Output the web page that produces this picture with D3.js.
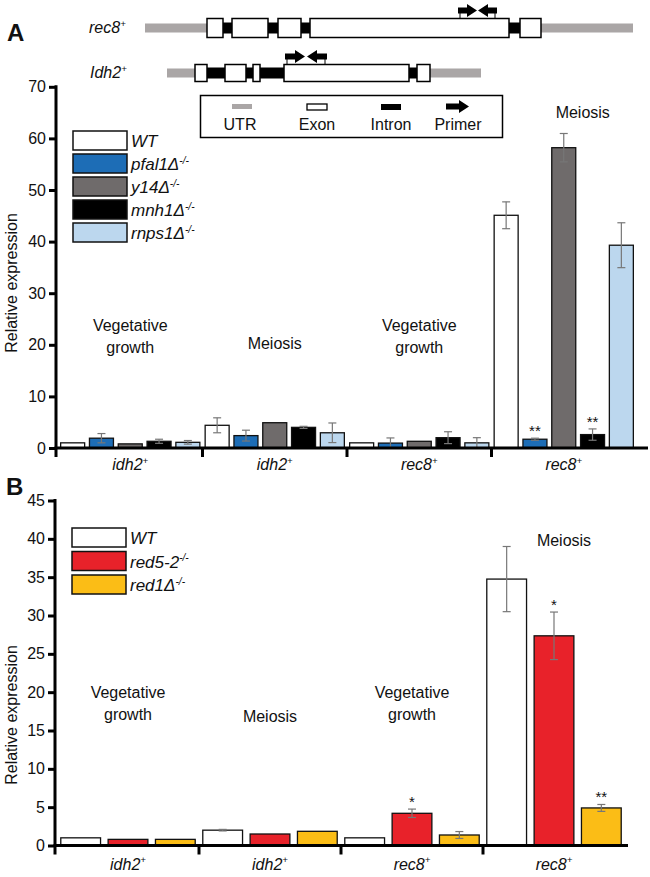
<!DOCTYPE html>
<html><head><meta charset="utf-8">
<script src="https://cdn.jsdelivr.net/npm/d3@7"></script>
<style>body{margin:0;background:#fff} text{font-family:"Liberation Sans",Arial,Helvetica,sans-serif;fill:#111}</style>
</head><body><svg id="c" width="650" height="877"></svg>
<script>
// ---------- DATA ----------
const genes = ["idh2", "idh2", "rec8", "rec8"];
const conditionsA = ["Vegetative|growth", "Meiosis", "Vegetative|growth", "Meiosis"];
const conditionsB = ["Vegetative|growth", "Meiosis", "Vegetative|growth", "Meiosis"];

const strainsA = ["WT", "pfal1Δ", "y14Δ", "mnh1Δ", "rnps1Δ"];
const colorsA = ["#ffffff", "#1d6db6", "#6f6b6b", "#000000", "#bcd7ee"];
const wtA      = [1.0, 4.4, 1.0, 45.1];
const pfal1A   = [1.9, 2.4, 0.95, 1.7];
const y14A     = [0.8, 4.9, 1.3, 58.2];
const mnh1A    = [1.3, 4.0, 2.0, 2.6];
const rnps1A   = [1.1, 2.95, 1.0, 39.3];
const wtErrA    = [0, 1.45, 0, 2.6];
const pfal1ErrA = [0.9, 1.05, 1.0, 0.2];
const y14ErrA   = [0, 0, 0, 2.75];
const mnh1ErrA  = [0.4, 0.2, 1.15, 1.1];
const rnps1ErrA = [0.35, 1.9, 1.0, 4.35];
const sigA = [["", "", "", ""], ["", "", "", "**"], ["", "", "", ""], ["", "", "", "**"], ["", "", "", ""]];
const ticksA = [0, 10, 20, 30, 40, 50, 60, 70];

const strainsB = ["WT", "red5-2", "red1Δ"];
const colorsB = ["#ffffff", "#e8222a", "#fbbd16"];
const wtB     = [1.0, 2.0, 1.0, 34.75];
const red5B   = [0.8, 1.5, 4.2, 27.35];
const red1B   = [0.8, 1.85, 1.37, 4.9];
const wtErrB   = [0, 0.1, 0, 4.25];
const red5ErrB = [0, 0, 0.55, 3.1];
const red1ErrB = [0, 0, 0.45, 0.45];
const sigB = [["", "", "", ""], ["", "", "*", "*"], ["", "", "", "**"]];
const ticksB = [0, 5, 10, 15, 20, 25, 30, 35, 40, 45];

// gene diagram (schematic coordinates)
const rec8Utr = [145, 633];
const rec8Exons = [[207, 223], [232, 268], [278, 301], [310, 509], [520, 541]];
const rec8Primers = [[458, 477, "r"], [478, 497, "l"]];
const idh2Utr = [167, 481];
const idh2Exons = [[195, 207], [225, 246], [253, 260], [284, 409], [417, 430]];
const idh2Primers = [[285, 305, "r"], [307, 327, "l"]];
const diagramLegend = ["UTR", "Exon", "Intron", "Primer"];

// ---------- DRAW ----------
const svg = d3.select("#c");
const FONT = '"Liberation Sans",Arial,Helvetica,sans-serif';

function supText(sel, main, sup, size, italic) {
  sel.attr("font-size", size).attr("font-style", italic ? "italic" : null);
  sel.append("tspan").text(main);
  if (sup) sel.append("tspan").attr("font-size", size * 0.6).attr("dy", -size * 0.38).text(sup);
}

// panel letters
svg.append("text").attr("x", 7).attr("y", 41).attr("font-size", 24).attr("font-weight", "bold").text("A");
svg.append("text").attr("x", 6).attr("y", 495).attr("font-size", 24).attr("font-weight", "bold").text("B");

// gene diagram
const gx = d3.scaleLinear().domain([0, 650]).range([0, 650]);
function arrowPts(x0, x1, py, dir) {
  const hl = 10, sh = 3, hh = 6.5;
  if (dir === "r") return [[x0, py - sh], [x1 - hl, py - sh], [x1 - hl, py - hh], [x1, py], [x1 - hl, py + hh], [x1 - hl, py + sh], [x0, py + sh]];
  return [[x1, py - sh], [x0 + hl, py - sh], [x0 + hl, py - hh], [x0, py], [x0 + hl, py + hh], [x0 + hl, py + sh], [x1, py + sh]];
}
function drawGene(utr, exons, primers, cy, exH, label, labelX) {
  const g = svg.append("g");
  g.append("rect").attr("x", gx(utr[0])).attr("y", cy - 4.5).attr("width", gx(utr[1]) - gx(utr[0])).attr("height", 9).attr("fill", "#aaa6a6");
  g.append("rect").attr("x", gx(exons[0][0])).attr("y", cy - 5.5).attr("width", gx(exons[exons.length - 1][1]) - gx(exons[0][0])).attr("height", 11).attr("fill", "#000");
  g.selectAll("rect.ex").data(exons).join("rect").attr("class", "ex")
    .attr("x", d => gx(d[0])).attr("y", cy - exH / 2).attr("width", d => gx(d[1]) - gx(d[0])).attr("height", exH)
    .attr("fill", "#fff").attr("stroke", "#000").attr("stroke-width", 1.5);
  const py = cy - exH / 2 - 8;
  primers.forEach(p => {
    const x0 = gx(p[0]), x1 = gx(p[1]);
    g.append("polygon").attr("points", arrowPts(x0, x1, py, p[2]).map(q => q.join(",")).join(" ")).attr("fill", "#000");
    const sx = p[2] === "r" ? x0 + 2 : x1 - 2;
    g.append("line").attr("x1", sx).attr("x2", sx).attr("y1", py).attr("y2", cy - exH / 2).attr("stroke", "#000").attr("stroke-width", 1);
  });
  const t = svg.append("text").attr("x", labelX).attr("y", cy + 5);
  supText(t, label, "+", 16, true);
}
drawGene(rec8Utr, rec8Exons, rec8Primers, 28, 19, "rec8", 89);
drawGene(idh2Utr, idh2Exons, idh2Primers, 73, 17, "Idh2", 90);

// diagram legend
svg.append("rect").attr("x", 200.5).attr("y", 95.5).attr("width", 302).attr("height", 42).attr("fill", "#fff").attr("stroke", "#000").attr("stroke-width", 1.5);
const dlx = [240, 317, 391, 458];
diagramLegend.forEach((name, i) => {
  svg.append("text").attr("x", dlx[i]).attr("y", 130).attr("text-anchor", "middle").attr("font-size", 16).text(name);
});
svg.append("rect").attr("x", 232).attr("y", 104).attr("width", 20).attr("height", 5).attr("fill", "#aaa6a6");
svg.append("rect").attr("x", 307).attr("y", 104).attr("width", 20).attr("height", 6).attr("fill", "#fff").attr("stroke", "#000").attr("stroke-width", 1.3);
svg.append("rect").attr("x", 381).attr("y", 104).attr("width", 20).attr("height", 6).attr("fill", "#000");
svg.append("polygon").attr("points", arrowPts(446, 469, 106.5, "r").map(q => q.join(",")).join(" ")).attr("fill", "#000");

// ---------- bar panel ----------
function panel(cfg) {
  const y = d3.scaleLinear().domain([0, cfg.max]).range([cfg.y0, cfg.y1]);
  const gxs = d3.scaleBand().domain(d3.range(genes.length)).range([cfg.x0, cfg.x1]).paddingInner(0).paddingOuter(0);
  const ix = d3.scaleBand().domain(d3.range(cfg.strains.length)).range([0, gxs.bandwidth()]).paddingInner(cfg.pi).paddingOuter(cfg.po);
  const g = svg.append("g");

  const rows = [];
  cfg.series.forEach((vals, s) => vals.forEach((v, k) => rows.push({ s, k, v, e: cfg.errors[s][k], sig: cfg.sig[s][k] })));

  g.selectAll("rect.bar").data(rows).join("rect").attr("class", "bar")
    .attr("x", d => gxs(d.k) + ix(d.s)).attr("width", ix.bandwidth())
    .attr("y", d => y(d.v)).attr("height", d => y(0) - y(d.v))
    .attr("fill", d => cfg.colors[d.s]).attr("stroke", "#111").attr("stroke-width", 1.3);

  const eb = rows.filter(d => d.e > 0);
  const ec = d => gxs(d.k) + ix(d.s) + ix.bandwidth() / 2;
  g.selectAll("line.ev").data(eb).join("line").attr("class", "ev")
    .attr("x1", ec).attr("x2", ec).attr("y1", d => y(d.v + d.e)).attr("y2", d => y(Math.max(0, d.v - d.e)))
    .attr("stroke", "#777").attr("stroke-width", 1.2);
  ["top", "bot"].forEach(w => {
    g.selectAll("line.c" + w).data(eb).join("line").attr("class", "c" + w)
      .attr("x1", d => ec(d) - 4).attr("x2", d => ec(d) + 4)
      .attr("y1", d => y(w === "top" ? d.v + d.e : Math.max(0, d.v - d.e)))
      .attr("y2", d => y(w === "top" ? d.v + d.e : Math.max(0, d.v - d.e)))
      .attr("stroke", "#777").attr("stroke-width", 1.2);
  });
  g.selectAll("text.sig").data(rows.filter(d => d.sig)).join("text").attr("class", "sig")
    .attr("x", ec).attr("y", d => y(d.v + d.e) - 2).attr("text-anchor", "middle").attr("font-size", 15).text(d => d.sig);

  // y axis
  const ax = g.append("g").attr("transform", `translate(${cfg.x0 - 2},0)`)
    .call(d3.axisLeft(y).tickValues(cfg.ticks).tickSize(7).tickSizeOuter(0).tickPadding(3));
  ax.select(".domain").remove();
  ax.selectAll(".tick line").attr("stroke", "#000").attr("stroke-width", 3);
  ax.selectAll(".tick text").attr("font-size", 16).attr("font-family", FONT).attr("fill", "#111");
  g.append("line").attr("x1", cfg.x0 - 2).attr("x2", cfg.x0 - 2).attr("y1", y(cfg.max) - 1.5).attr("y2", y(0) + 9).attr("stroke", "#000").attr("stroke-width", 3);
  // x axis
  g.append("line").attr("x1", cfg.x0 - 3.5).attr("x2", cfg.xEnd).attr("y1", y(0)).attr("y2", y(0)).attr("stroke", "#000").attr("stroke-width", 3);
  d3.range(1, genes.length).forEach(k => {
    g.append("line").attr("x1", gxs(k)).attr("x2", gxs(k)).attr("y1", y(0)).attr("y2", y(0) + 9).attr("stroke", "#000").attr("stroke-width", 3);
  });
  genes.forEach((n, k) => {
    const t = g.append("text").attr("x", gxs(k) + gxs.bandwidth() / 2).attr("y", y(0) + cfg.labelDy).attr("text-anchor", "middle");
    supText(t, n, "+", 16, true);
  });
  // condition annotations
  cfg.conds.forEach((c, k) => {
    const lines = c.split("|");
    const pos = cfg.condPos[k];
    lines.forEach((l, j) => {
      g.append("text").attr("x", gxs(k) + gxs.bandwidth() / 2 + (pos[0] || 0)).attr("y", pos[1] + j * 22)
        .attr("text-anchor", "middle").attr("font-size", 16).text(l);
    });
  });
  // y label
  g.append("text").attr("transform", `translate(17,${cfg.labelY}) rotate(-90)`).attr("text-anchor", "middle").attr("font-size", 16).text("Relative expression");
  // legend
  cfg.strains.forEach((s, i) => {
    const yy = cfg.legY + i * cfg.legStep;
    g.append("rect").attr("x", cfg.legX).attr("y", yy).attr("width", 54).attr("height", 19)
      .attr("fill", cfg.colors[i]).attr("stroke", "#111").attr("stroke-width", 1.5);
    const t = g.append("text").attr("x", cfg.legX + 58).attr("y", yy + 16);
    supText(t, s, i === 0 ? "" : "-/-", 17, true);
  });
}

panel({
  max: 70, y0: 448, y1: 86.8, x0: 58, x1: 636, xEnd: 648, pi: 0.167, po: 0.092,
  strains: strainsA, colors: colorsA,
  series: [wtA, pfal1A, y14A, mnh1A, rnps1A],
  errors: [wtErrA, pfal1ErrA, y14ErrA, mnh1ErrA, rnps1ErrA],
  sig: sigA, ticks: ticksA, labelDy: 22,
  conds: conditionsA, condPos: [[0, 331], [0, 349], [0, 331], [19, 118]],
  labelY: 283, legX: 73, legY: 131, legStep: 23
});
panel({
  max: 45, y0: 845.5, y1: 500.5, x0: 57, x1: 625, xEnd: 628, pi: 0.16, po: 0.08,
  strains: strainsB, colors: colorsB,
  series: [wtB, red5B, red1B],
  errors: [wtErrB, red5ErrB, red1ErrB],
  sig: sigB, ticks: ticksB, labelDy: 24,
  conds: conditionsB, condPos: [[0, 698], [0, 722], [0, 698], [10, 546]],
  labelY: 715, legX: 72, legY: 528, legStep: 23.5
});
</script></body></html>
